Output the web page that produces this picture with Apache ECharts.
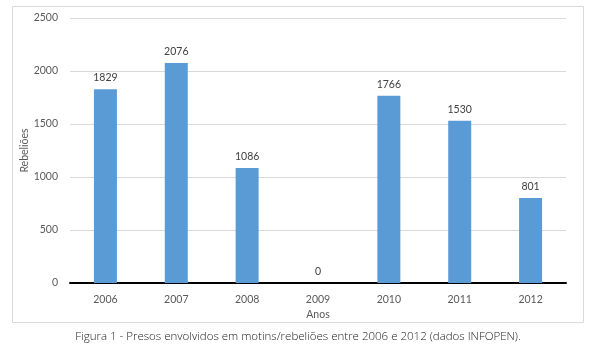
<!DOCTYPE html>
<html><head><meta charset="utf-8">
<script src="https://cdn.jsdelivr.net/npm/echarts@6/dist/echarts.min.js"></script>
<style>html,body{margin:0;padding:0;background:#fff}#c{width:596px;height:349px}</style>
</head><body><div id="c"></div>
<script>
const categories = ['2006','2007','2008','2009','2010','2011','2012'];
const values = [1829, 2076, 1086, 0, 1766, 1530, 801];
const yTicks = [0, 500, 1000, 1500, 2000, 2500];
const caption = 'Figura 1 - Presos envolvidos em motins/rebeliões entre 2006 e 2012 (dados INFOPEN).';
const font = 'Lato, "Open Sans", sans-serif';
const chart = echarts.init(document.getElementById('c'), null, {renderer:'canvas'});
chart.setOption({
  animation:false,
  graphic:[
    {type:'rect', shape:{x:12.5,y:6.5,width:571,height:316}, style:{fill:'none',stroke:'#d9d9d9',lineWidth:1}, z:-1},
    {type:'text', left:'center', top:331, style:{text:caption, fill:'#222', fontSize:11.5, fontFamily:'"Open Sans", sans-serif', fontWeight:300}}
  ],
  grid:{left:70, right:30, top:18, bottom:66, containLabel:false},
  xAxis:{type:'category', data:categories, name:'Anos', nameLocation:'middle', nameGap:26, nameMoveOverlap:false,
    nameTextStyle:{color:'#595959', fontSize:10.5, fontFamily:font},
    axisLine:{lineStyle:{color:'#000', width:2}}, axisTick:{show:false},
    axisLabel:{color:'#595959', fontSize:10.5, fontFamily:font, margin:11}},
  yAxis:{type:'value', min:yTicks[0], max:yTicks[yTicks.length-1], interval:500,
    name:'Rebeliões', nameLocation:'middle', nameGap:40, nameRotate:90, nameMoveOverlap:false,
    nameTextStyle:{color:'#595959', fontSize:10.5, fontFamily:font},
    axisLine:{show:false}, axisTick:{show:false},
    axisLabel:{color:'#595959', fontSize:10.5, fontFamily:font, margin:12, formatter:v=>String(v)},
    splitLine:{lineStyle:{color:'#d9d9d9', width:1}}},
  series:[{type:'bar', data:values, barWidth:23,
    itemStyle:{color:'#5b9bd5'},
    label:{show:true, position:'top', distance:6, color:'#404040', fontSize:10.5, fontFamily:font}}]
});
</script></body></html>
